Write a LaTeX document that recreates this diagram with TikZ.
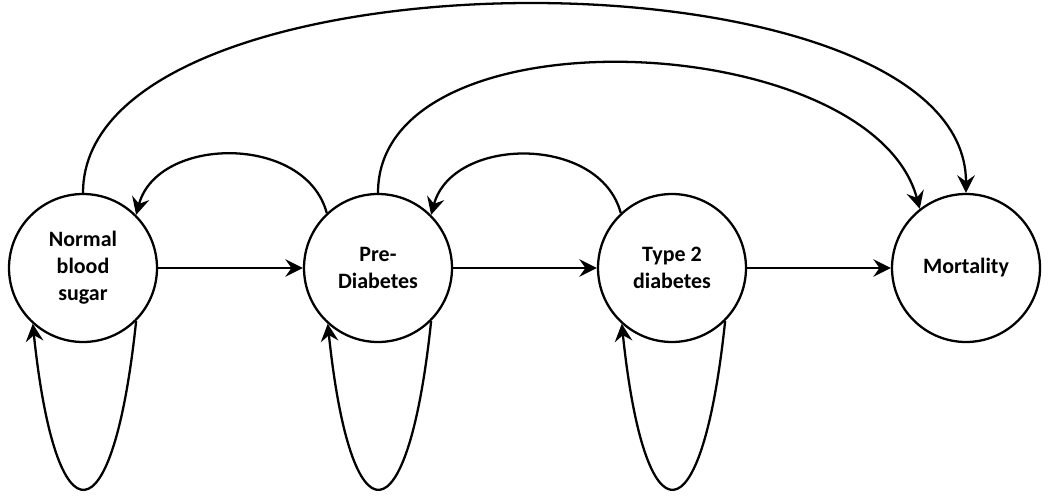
\documentclass[tikz,border=0pt]{standalone}
\usepackage{fontspec}
\setmainfont{Carlito}
\usetikzlibrary{arrows.meta,positioning}

\begin{document}
\begin{tikzpicture}[x=0.02cm, y=0.02cm, >={Stealth[length=10pt,width=10pt,inset=3.5pt]}]
		\useasboundingbox (0,0) rectangle (1050,501);
		\begin{scope}[every node/.style={circle,draw,line width=1.3pt,minimum size=2.96cm,align=center,font=\bfseries\fontsize{12.5}{15.3}\selectfont}]
			\node (nbs) at (83,233) {Normal\\blood\\sugar};
			\node (pre) at (378,233) {Pre-\\Diabetes};
			\node (t2d) at (672,233) {Type 2\\diabetes};
			\node (mort) at (966,233) {Mortality};
		\end{scope}
		\begin{scope}[every path/.style={line width=1.3pt,->}]
			\path (nbs) edge (pre);
			\path (pre) edge (t2d);
			\path (t2d) edge (mort);
			% back transitions
			\path (pre.133) edge[out=105,in=75,looseness=1.1] (nbs.45);
			\path (t2d.133) edge[out=105,in=75,looseness=1.1] (pre.45);
			% to mortality
			\path (nbs.north) edge[out=90,in=90,looseness=0.73] (mort.north);
			\path (pre.north) edge[out=90,in=105,looseness=0.88] (mort.128);
			% stay in state
			\path (nbs.-45) edge[out=-96,in=-84,looseness=5.5] (nbs.-132);
			\path (pre.-45) edge[out=-96,in=-84,looseness=5.5] (pre.-132);
			\path (t2d.-45) edge[out=-96,in=-84,looseness=5.5] (t2d.-132);
		\end{scope}
	\end{tikzpicture}
\end{document}
